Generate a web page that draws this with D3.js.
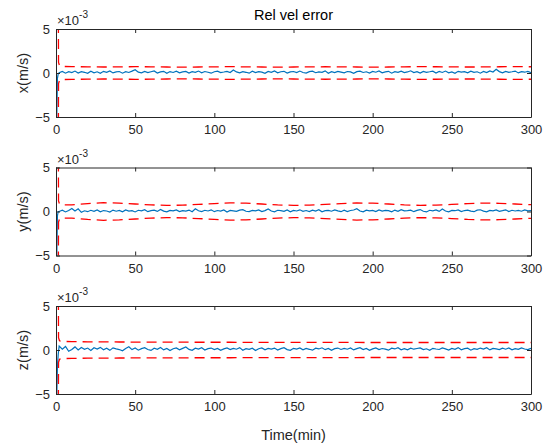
<!DOCTYPE html>
<html>
<head>
<meta charset="utf-8">
<script src="https://cdn.jsdelivr.net/npm/d3@7"></script>
<style>
  body { margin: 0; background: #fff; }
  svg { font-family: "Liberation Sans", Arial, sans-serif; }
  .tick text { fill: #262626; font-size: 13px; }
  .domain, .tick line { stroke: #262626; }
</style>
</head>
<body>
<div id="vis"></div>
<script>
// values in units of 1e-3 m/s
var xTicks = [0, 50, 100, 150, 200, 250, 300];
var yTicks = [-5, 0, 5];
var labels = ["x(m/s)", "y(m/s)", "z(m/s)"];

// start-up transient, sampled by hand
var headT = [0, 0.4, 0.9, 1.4];
var xHead = [6, -6, -0.6, -0.1];
var yHead = [6, -6, -0.5, 0.0];
var zHead = [6, -6, -1.8, -0.5];

// steady part, one value every 2 min from t = 2 to 300
var xVals = [0.02, 0.18, -0.02, 0.15, 0.05, 0.22, 0.00, 0.16, 0.08, -0.04,
  0.20, 0.03, 0.14, -0.03, 0.19, 0.07, 0.24, 0.01, 0.12, 0.17,
  -0.02, 0.15, 0.06, 0.21, 0.38, 0.10, 0.02, 0.18, 0.05, 0.14,
  0.23, 0.00, 0.12, 0.19, -0.03, 0.16, 0.06, 0.21, 0.02, 0.13,
  0.18, -0.01, 0.15, 0.07, 0.22, 0.03, 0.17, 0.09, -0.02, 0.14,
  0.20, 0.04, 0.11, 0.19, 0.06, 0.34, 0.12, 0.01, 0.16, 0.08,
  -0.02, 0.21, 0.05, 0.15, 0.10, -0.04, 0.18, 0.07, 0.23, 0.02,
  0.14, 0.19, 0.00, 0.12, 0.17, 0.04, 0.22, 0.06, -0.01, 0.15,
  0.20, 0.03, 0.13, 0.08, 0.24, -0.02, 0.16, 0.05, 0.19, 0.10,
  0.01, 0.17, 0.12, -0.03, 0.15, 0.21, 0.06, 0.14, 0.00, 0.18,
  0.09, 0.23, 0.02, 0.13, 0.19, -0.02, 0.16, 0.07, 0.20, 0.04,
  0.12, 0.25, 0.05, 0.15, -0.01, 0.18, 0.08, 0.14, 0.21, 0.00,
  0.17, 0.06, 0.22, 0.03, 0.13, -0.03, 0.19, 0.10, 0.15, 0.02,
  0.20, 0.08, 0.14, -0.02, 0.18, 0.05, 0.23, 0.11, 0.42, 0.16,
  0.03, 0.19, 0.07, 0.14, 0.22, 0.01, 0.16, 0.09, 0.18, 0.04];
var yVals = [0.00, 0.15, -0.05, 0.12, 0.35, 0.05, 0.30, -0.10, 0.08, -0.02,
  0.14, 0.02, 0.18, -0.04, 0.11, 0.06, -0.06, 0.16, 0.03, 0.12,
  -0.03, 0.17, 0.05, 0.10, -0.05, 0.14, 0.08, 0.20, -0.02, 0.09,
  0.15, 0.01, 0.24, 0.04, -0.04, 0.13, 0.07, 0.18, -0.01, 0.10,
  0.05, 0.16, -0.03, 0.30, 0.08, 0.00, 0.14, 0.06, 0.19, -0.02,
  0.11, 0.04, 0.17, -0.05, 0.13, 0.08, 0.02, 0.16, 0.21, 0.03,
  -0.02, 0.12, 0.07, 0.18, 0.00, 0.10, 0.28, 0.05, -0.04, 0.14,
  0.09, 0.01, 0.17, -0.03, 0.12, 0.06, 0.19, 0.02, 0.11, -0.01,
  0.16, 0.04, 0.20, -0.04, 0.09, 0.13, 0.03, 0.18, 0.07, -0.02,
  0.14, 0.00, 0.11, 0.17, 0.32, 0.06, -0.03, 0.15, 0.08, 0.12,
  -0.01, 0.18, 0.04, 0.13, 0.09, -0.04, 0.16, 0.02, 0.20, 0.07,
  0.10, 0.15, -0.02, 0.12, 0.22, 0.03, -0.05, 0.14, 0.08, 0.17,
  0.01, 0.29, 0.06, -0.03, 0.13, 0.09, 0.18, 0.00, 0.11, 0.15,
  0.04, -0.02, 0.16, 0.20, 0.05, -0.04, 0.12, 0.08, 0.17, 0.02,
  0.10, 0.19, -0.01, 0.14, 0.06, 0.12, 0.03, 0.18, 0.07, 0.11];
var zVals = [0.45, 0.10, 0.40, -0.15, 0.05, 0.35, 0.00, 0.28, 0.08, 0.22,
  -0.05, 0.25, 0.10, 0.30, 0.02, 0.20, -0.04, 0.24, 0.12, 0.05,
  -0.08, 0.18, 0.36, 0.04, 0.22, -0.02, 0.15, 0.26, 0.06, -0.05,
  0.20, 0.08, 0.28, 0.01, 0.17, -0.06, 0.14, 0.24, 0.03, 0.19,
  0.34, 0.07, -0.03, 0.21, 0.10, 0.25, 0.00, 0.16, 0.22, 0.04,
  0.18, -0.04, 0.13, 0.23, 0.05, 0.19, 0.09, 0.27, -0.02, 0.15,
  0.07, 0.21, -0.05, 0.14, 0.24, 0.03, 0.18, 0.10, 0.22, 0.00,
  0.16, 0.26, 0.05, -0.03, 0.19, 0.11, 0.23, 0.02, 0.17, 0.08,
  -0.02, 0.21, 0.12, 0.25, 0.04, 0.18, -0.04, 0.15, 0.22, 0.06,
  0.19, 0.09, 0.24, 0.01, 0.16, 0.27, 0.05, 0.18, -0.03, 0.13,
  0.23, 0.04, 0.17, 0.10, -0.02, 0.20, 0.12, 0.26, 0.03, 0.15,
  0.02, 0.21, 0.09, 0.17, 0.24, 0.05, 0.14, -0.04, 0.19, 0.11,
  0.06, 0.23, 0.13, 0.00, 0.18, 0.08, 0.27, 0.03, 0.15, 0.21,
  -0.02, 0.16, 0.07, 0.22, 0.10, 0.25, 0.01, 0.18, 0.12, 0.04,
  0.20, 0.09, 0.24, 0.02, 0.16, 0.07, 0.23, 0.11, 0.05, 0.19];

// 3-sigma bounds
var boundT = [0, 1.2, 1.6, 2.2, 3, 5, 10, 20, 30, 40, 50, 60, 70, 80, 90, 100,
  110, 120, 130, 140, 150, 160, 170, 180, 190, 200, 210, 220, 230, 240, 250,
  260, 270, 280, 290, 300];
var xBound = [20, 20, 1.2, 0.85, 0.78, 0.74, 0.72, 0.70, 0.68, 0.70, 0.72, 0.70, 0.68,
  0.66, 0.68, 0.70, 0.72, 0.70, 0.68, 0.67, 0.68, 0.70, 0.71, 0.70, 0.68, 0.67,
  0.68, 0.70, 0.72, 0.71, 0.69, 0.68, 0.69, 0.71, 0.72, 0.71];
var yBound = [20, 20, 1.2, 0.85, 0.78, 0.75, 0.75, 0.9, 1.0, 0.95, 0.85, 0.75, 0.7,
  0.72, 0.8, 0.9, 0.98, 0.95, 0.85, 0.75, 0.70, 0.72, 0.8, 0.9, 0.97, 0.95,
  0.85, 0.75, 0.70, 0.72, 0.8, 0.9, 0.96, 0.93, 0.85, 0.78];
var zBound = [20, 20, 1.4, 1.05, 1.0, 0.97, 0.95, 0.93, 0.92, 0.91, 0.90, 0.90,
  0.89, 0.89, 0.88, 0.88, 0.88, 0.87, 0.87, 0.87, 0.86, 0.86, 0.86, 0.86, 0.86,
  0.85, 0.85, 0.85, 0.85, 0.85, 0.85, 0.85, 0.85, 0.85, 0.85, 0.85];

var width = 549, height = 446;
var left = 56, right = 531, panelH = 88;
var tops = [29, 167.5, 306];

var svg = d3.select("#vis").append("svg")
    .attr("width", width)
    .attr("height", height);

var x = d3.scaleLinear().domain([0, 300]).range([left, right]);
var gridT = d3.range(2, 301, 2);

var heads = [xHead, yHead, zHead];
var vals = [xVals, yVals, zVals];
var bounds = [xBound, yBound, zBound];

tops.forEach(function (top, k) {
  var y = d3.scaleLinear().domain([-5, 5]).range([top + panelH, top]);
  var g = svg.append("g");

  svg.append("clipPath").attr("id", "clip" + k)
    .append("rect")
      .attr("x", left).attr("y", top)
      .attr("width", right - left).attr("height", panelH);

  var pts = headT.map(function (t, i) { return [t, heads[k][i]]; })
      .concat(gridT.map(function (t, i) { return [t, vals[k][i]]; }));
  var line = d3.line()
      .x(function (d) { return x(d[0]); })
      .y(function (d) { return y(d[1]); });

  var plot = g.append("g").attr("clip-path", "url(#clip" + k + ")");

  plot.append("path")
      .datum(pts)
      .style("fill", "none")
      .style("stroke", "#0072BD")
      .style("stroke-width", 1.2)
      .attr("d", line);

  [1, -1].forEach(function (s) {
    plot.append("path")
        .datum(boundT.map(function (t, i) { return [t, s * bounds[k][i]]; }))
        .style("fill", "none")
        .style("stroke", "#FF0000")
        .style("stroke-width", 1.3)
        .style("stroke-dasharray", "10,6")
        .attr("d", line);
  });

  // box with inward ticks on all sides
  g.append("g")
      .attr("transform", "translate(0," + (top + panelH) + ")")
      .call(d3.axisBottom(x).tickValues(xTicks).tickSizeInner(-4).tickSizeOuter(0).tickPadding(8));
  g.append("g")
      .attr("transform", "translate(0," + top + ")")
      .call(d3.axisTop(x).tickValues(xTicks).tickSizeInner(-4).tickSizeOuter(0).tickFormat(""));
  g.append("g")
      .attr("transform", "translate(" + left + ",0)")
      .call(d3.axisLeft(y).tickValues(yTicks).tickSizeInner(-4).tickSizeOuter(0).tickPadding(6));
  g.append("g")
      .attr("transform", "translate(" + right + ",0)")
      .call(d3.axisRight(y).tickValues(yTicks).tickSizeInner(-4).tickSizeOuter(0).tickFormat(""));

  // exponent
  var ex = g.append("text")
      .attr("x", left + 1)
      .attr("y", top - 4)
      .attr("fill", "#262626")
      .style("font-size", "13px")
      .text("\u00d710");
  ex.append("tspan")
      .attr("dy", -7)
      .style("font-size", "10px")
      .text("-3");

  g.append("text")
      .attr("transform", "translate(28," + (top + panelH / 2) + ") rotate(-90)")
      .attr("text-anchor", "middle")
      .attr("fill", "#262626")
      .style("font-size", "14.5px")
      .text(labels[k]);
});

svg.append("text")
    .attr("x", (left + right) / 2)
    .attr("y", 20)
    .attr("text-anchor", "middle")
    .attr("fill", "#000")
    .style("font-size", "14.5px")
    .text("Rel vel error");

svg.append("text")
    .attr("x", (left + right) / 2)
    .attr("y", 440)
    .attr("text-anchor", "middle")
    .attr("fill", "#262626")
    .style("font-size", "14.5px")
    .text("Time(min)");
</script>
</body>
</html>
